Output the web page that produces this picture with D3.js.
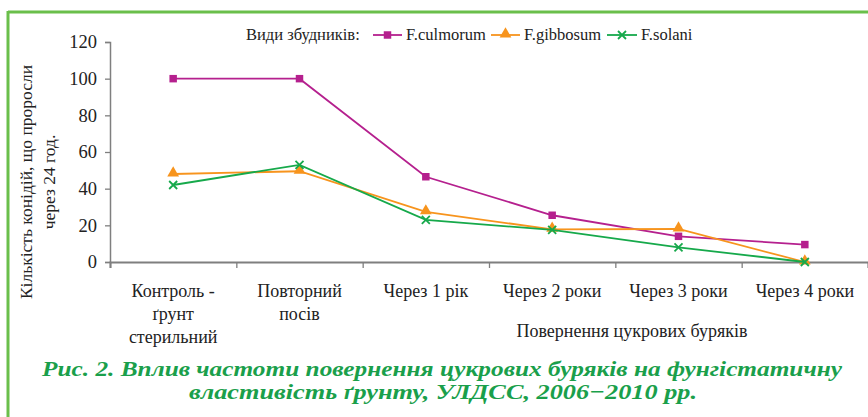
<!DOCTYPE html>
<html><head><meta charset="utf-8">
<script src="https://cdn.jsdelivr.net/npm/d3@7"></script>
<style>body{margin:0;background:#fff} svg text, svg tspan{font-family:"Liberation Serif", "Times New Roman", Tinos !important}</style>
</head><body style="margin:0">
<svg id="c" width="868" height="417"></svg>
<script>
const categories = [["Контроль -","ґрунт","стерильний"],["Повторний","посів"],["Через 1 рік"],["Через 2 роки"],["Через 3 роки"],["Через 4 роки"]];
const culmorum = [100, 100, 46.5, 25.5, 14, 9.5];
const gibbosum = [48, 49.5, 27.3, 17.8, 18, 0];
const solani = [42, 53, 23, 17.5, 8, 0];
const yTicks = [0, 20, 40, 60, 80, 100, 120];
const seriesNames = ["F.culmorum", "F.gibbosum", "F.solani"];

const svg = d3.select("#c");
const ff = '"Liberation Serif", "Times New Roman", Tinos';
const setF = (sel, size) => sel.style("font-family", ff, "important").style("font-size", size + "px");
const axisColor = "#7f7f7f";
const colors = ["#b5208e", "#f7941d", "#16a94b"];

svg.append("line").attr("x1",8).attr("x2",868).attr("y1",12).attr("y2",12).attr("stroke","#6abf4b").attr("stroke-width",3);
svg.append("line").attr("x1",8).attr("x2",8).attr("y1",11).attr("y2",417).attr("stroke","#6abf4b").attr("stroke-width",3);

const x0 = 110, x1 = 868, yTop = 42, yBot = 262;
const idx = d3.range(categories.length);
const xb = d3.scaleBand().domain(idx).range([x0, x1]).padding(0);
const xl = d3.scaleLinear().domain([0, categories.length]).range([x0, x1]);
const y = d3.scaleLinear().domain([0, 120]).range([yBot, yTop]);
const xc = i => xb(i) + xb.bandwidth()/2;

const ya = svg.append("g").attr("transform",`translate(${x0},0)`)
  .call(d3.axisLeft(y).tickValues(yTicks).tickSize(5).tickPadding(8));
ya.attr("font-family", ff);
ya.select(".domain").attr("stroke",axisColor).attr("stroke-width",1.5);
ya.selectAll(".tick line").attr("stroke",axisColor).attr("stroke-width",1.3);
setF(ya.selectAll(".tick text"), 18.5).attr("fill","#222");

const xa = svg.append("g").attr("transform",`translate(0,${yBot})`)
  .call(d3.axisBottom(xl).tickValues(d3.range(categories.length+1)).tickSize(6).tickFormat(""));
xa.select(".domain").attr("stroke",axisColor).attr("stroke-width",2);
xa.selectAll(".tick line").attr("stroke",axisColor).attr("stroke-width",1.3);

categories.forEach((lines,i)=>{
  const t = setF(svg.append("text").attr("x",xc(i)).attr("y",297).attr("text-anchor","middle"), 18).attr("fill","#222");
  lines.forEach((l,j)=>t.append("tspan").attr("x",xc(i)).attr("dy",j===0?0:23).text(l));
});

setF(svg.append("text").attr("x",632).attr("y",337).attr("text-anchor","middle"), 18)
  .attr("fill","#222").text("Повернення цукрових буряків");
const yt = setF(svg.append("text").attr("transform","translate(32,182) rotate(-90)").attr("text-anchor","middle"), 17.5).attr("fill","#222");
yt.append("tspan").attr("x",0).attr("dy",0).text("Кількість конідій, що проросли");
yt.append("tspan").attr("x",0).attr("dy",22.5).text("через 24 год.");

const all = [culmorum, gibbosum, solani];
const line = d3.line().x((d,i)=>xc(i)).y(d=>y(d));
function marker(g, k, cx, cy){
  if(k===0){
    g.append("path").attr("d",d3.symbol(d3.symbolSquare,56)()).attr("transform",`translate(${cx},${cy})`).attr("fill",colors[0]);
  } else if(k===1){
    g.append("path").attr("d",d3.symbol(d3.symbolTriangle,60)()).attr("transform",`translate(${cx},${cy-1})`).attr("fill",colors[1]);
  } else {
    const s=4;
    g.append("path").attr("d",`M${cx-s},${cy-s}L${cx+s},${cy+s}M${cx-s},${cy+s}L${cx+s},${cy-s}`).attr("stroke",colors[2]).attr("stroke-width",1.8).attr("fill","none");
  }
}
all.forEach((s,k)=>{
  const g = svg.append("g");
  g.append("path").datum(s).attr("d",line).attr("fill","none").attr("stroke",colors[k]).attr("stroke-width",1.8);
  s.forEach((v,i)=>marker(g,k,xc(i),y(v)));
});

setF(svg.append("text").attr("x",246).attr("y",40), 16.5).attr("fill","#222").text("Види збудників:");
const legX = [[373,402,406],[491,520,524],[607,637,641]];
seriesNames.forEach((n,k)=>{
  const [a,b,tx]=legX[k];
  svg.append("line").attr("x1",a).attr("x2",b).attr("y1",35).attr("y2",35).attr("stroke",colors[k]).attr("stroke-width",1.8);
  marker(svg,k,(a+b)/2,35);
  setF(svg.append("text").attr("x",tx).attr("y",40), 16.5).attr("fill","#222").text(n);
});

setF(svg.append("text").attr("x",442).attr("y",376).attr("text-anchor","middle").attr("textLength",800).attr("lengthAdjust","spacingAndGlyphs"), 22)
  .style("font-weight","bold").style("font-style","italic").attr("fill","#1a9f4b")
  .text("Рис. 2. Вплив частоти повернення цукрових буряків на фунгістатичну");
setF(svg.append("text").attr("x",443).attr("y",399).attr("text-anchor","middle").attr("textLength",508).attr("lengthAdjust","spacingAndGlyphs"), 22)
  .style("font-weight","bold").style("font-style","italic").attr("fill","#1a9f4b")
  .text("властивість ґрунту, УЛДСС, 2006−2010 рр.");
</script>
</body></html>
